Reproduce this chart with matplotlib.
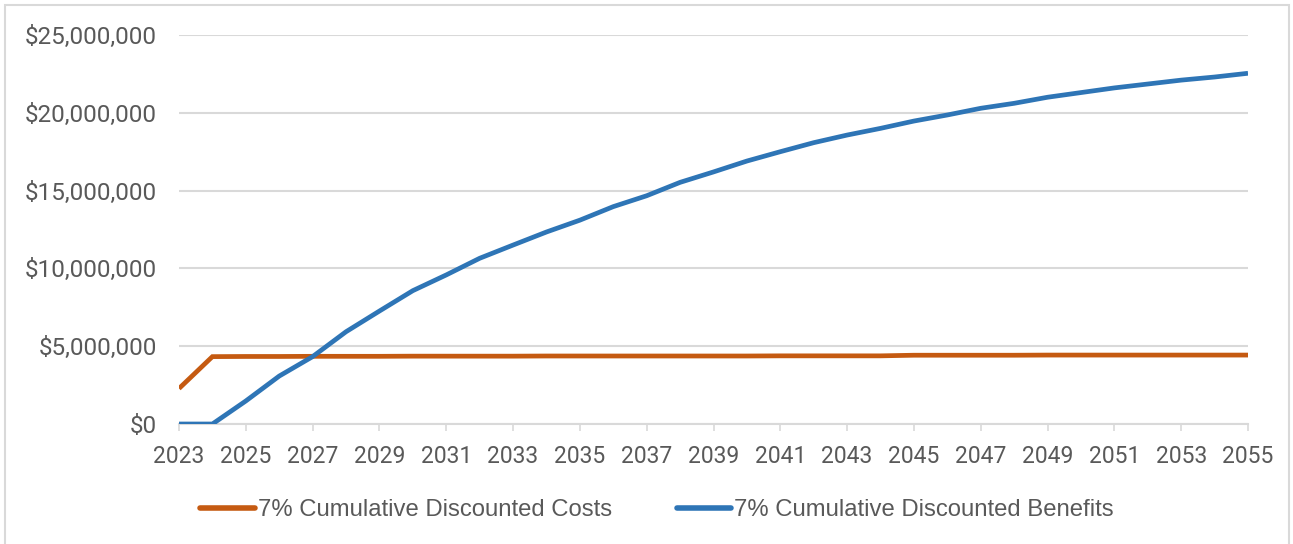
import numpy as np
import matplotlib
matplotlib.use("Agg")
import matplotlib.pyplot as plt
from matplotlib.patches import Rectangle
from matplotlib.ticker import FuncFormatter, MultipleLocator

# Data
years = list(range(2023, 2056))
costs = [2.28, 4.33, 4.34, 4.34, 4.35, 4.35, 4.35, 4.36, 4.36, 4.36, 4.36,
         4.37, 4.37, 4.37, 4.37, 4.37, 4.37, 4.37, 4.38, 4.38, 4.38, 4.38,
         4.42, 4.42, 4.42, 4.42, 4.43, 4.43, 4.43, 4.43, 4.43, 4.43, 4.43]
benefits = [0.0, 0.0, 1.48, 3.08, 4.33, 5.93, 7.26, 8.57, 9.58, 10.65, 11.5,
            12.34, 13.1, 13.97, 14.67, 15.53, 16.2, 16.9, 17.5, 18.08, 18.57,
            19.0, 19.47, 19.86, 20.29, 20.61, 21.0, 21.3, 21.6, 21.85, 22.1,
            22.3, 22.54]
tick_years = years[::2]
series_names = ["7% Cumulative Discounted Costs", "7% Cumulative Discounted Benefits"]
series_colors = ["#C55A11", "#2E75B6"]

W, H = 1293, 544
fig = plt.figure(figsize=(W / 100, H / 100), dpi=100)
ax = fig.add_axes([179 / W, 1 - 424 / H, (1248 - 179) / W, (424 - 35) / H])

for vals, name, col in zip([costs, benefits], series_names, series_colors):
    ax.plot(years, np.array(vals) * 1e6, color=col, lw=3.4, label=name,
            solid_capstyle="butt", solid_joinstyle="miter", zorder=3)

ax.set_xlim(2023, 2055)
ax.set_ylim(0, 25e6)
ax.set_xticks(tick_years)
ax.yaxis.set_major_locator(MultipleLocator(5e6))
ax.yaxis.set_major_formatter(FuncFormatter(lambda v, p: f"${v:,.0f}"))

grid_col = "#D9D9D9"
ax.grid(axis="y", color=grid_col, lw=1.5, zorder=0)
for s in ["top", "right", "left"]:
    ax.spines[s].set_visible(False)
ax.spines["bottom"].set_color(grid_col)
ax.spines["bottom"].set_linewidth(1.5)

ax.tick_params(axis="y", length=0, pad=16, labelsize=17.5, labelcolor="#595959")
ax.tick_params(axis="x", length=5, width=1.2, color=grid_col, pad=10,
               labelsize=16.5, labelcolor="#595959")
for lbl in ax.get_xticklabels() + ax.get_yticklabels():
    lbl.set_family("Roboto")

leg = fig.legend(loc="center", bbox_to_anchor=(657 / W, 1 - 510 / H), ncol=2,
                 frameon=False, handlelength=2.3, handletextpad=0.12,
                 columnspacing=2.7, prop={"family": "Liberation Sans", "size": 17.2})
for t in leg.get_texts():
    t.set_color("#595959")
for h in leg.get_lines():
    h.set_linewidth(4)
    h.set_solid_capstyle("round")

# light border around the chart area
fig.patches.append(Rectangle((5 / W, -0.05), (1289 - 5) / W, 1.05 - 5 / H,
                             transform=fig.transFigure, fill=False,
                             edgecolor="#D9D9D9", lw=1.5))

fig.savefig("out.png", dpi=100)
